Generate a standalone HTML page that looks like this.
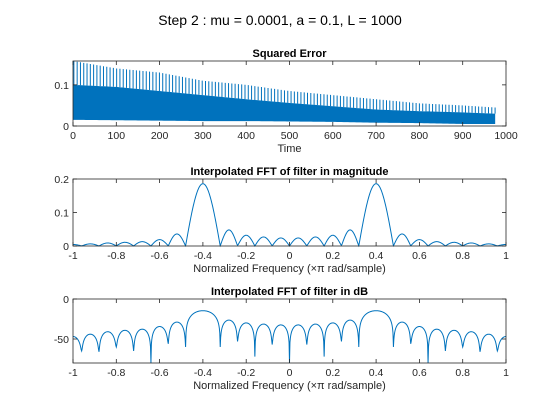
<!DOCTYPE html>
<html><head><meta charset="utf-8"><style>
body{margin:0;background:#fff}
svg{display:block;font-family:"Liberation Sans",sans-serif}
</style></head><body>
<svg id="fig" width="560" height="420" viewBox="0 0 560 420" xmlns="http://www.w3.org/2000/svg">
<rect width="560" height="420" fill="#fff"/>
<text x="280" y="25" font-size="14" text-anchor="middle" fill="#000">Step 2 : mu = 0.0001, a = 0.1, L = 1000</text>
</svg>
<script>
// ---- data ----
const errTimes = [0,100,200,300,400,500,600,700,800,900,975];
const errUpper = [0.158,0.14,0.13,0.11,0.1,0.085,0.075,0.065,0.055,0.05,0.045];
const errBandTop = [0.1,0.095,0.085,0.075,0.065,0.056,0.048,0.04,0.036,0.033,0.03];
const errBandBottom = [0.015,0.014,0.013,0.012,0.012,0.011,0.01,0.008,0.007,0.005,0.005];
const lobeCenters = [0.04,0.12,0.2,0.28,0.4,0.52,0.6,0.68,0.76,0.84,0.92,1.0];
const lobeHalfWidth = [0.04,0.04,0.04,0.04,0.08,0.04,0.04,0.04,0.04,0.04,0.04,0.04];
const lobePeaks = [0.024,0.027,0.032,0.048,0.186,0.036,0.019,0.013,0.011,0.009,0.0063,0.0045];
const nullFreqs = [0,0.08,0.16,0.24,0.32,0.48,0.56,0.64,0.72,0.8,0.88,0.96];
const nullDepthDb = [-85,-57,-72,-53,-60,-60,-56,-80,-65,-60,-66,-65];
const errXTicks = [0,100,200,300,400,500,600,700,800,900,1000];
const errYTicks = [0,0.1];
const freqTicks = [-1,-0.8,-0.6,-0.4,-0.2,0,0.2,0.4,0.6,0.8,1];
const magYTicks = [0,0.1,0.2];
const dbYTicks = [0,-50];

const NS="http://www.w3.org/2000/svg";
const svg=document.getElementById('fig');
function mk(tag,attrs,parent){const e=document.createElementNS(NS,tag);for(const k in attrs)e.setAttribute(k,attrs[k]);(parent||svg).appendChild(e);return e;}
const L=73,R=506;
function axes(name,top,bot,xmin,xmax,ymin,ymax){
  const g=mk('g',{});
  
  
  return {g,top,bot,x:v=>L+(v-xmin)/(xmax-xmin)*(R-L),y:v=>bot-(v-ymin)/(ymax-ymin)*(bot-top)};
}
function frame(a,title,xt,yt,xlabel,fmtx){
  mk('rect',{x:L,y:a.top,width:R-L,height:a.bot-a.top,fill:'none',stroke:'#262626','stroke-width':0.8},a.g);
  const t=mk('text',{x:(L+R)/2,y:a.top-4,'font-size':11,'font-weight':'bold','text-anchor':'middle',fill:'#000'},a.g);t.textContent=title;
  
  
  xt.forEach(v=>{const x=a.x(v);
    mk('line',{x1:x,x2:x,y1:a.bot,y2:a.bot-4,stroke:'#262626','stroke-width':0.8},a.g);
    mk('line',{x1:x,x2:x,y1:a.top,y2:a.top+4,stroke:'#262626','stroke-width':0.8},a.g);
    const l=mk('text',{x:x,y:a.bot+13,'font-size':10.5,'text-anchor':'middle',fill:'#262626'},a.g);l.textContent=fmtx(v);
    
    });
  yt.forEach(v=>{const y=a.y(v);
    mk('line',{x1:L,x2:L+4,y1:y,y2:y,stroke:'#262626','stroke-width':0.8},a.g);
    mk('line',{x1:R,x2:R-4,y1:y,y2:y,stroke:'#262626','stroke-width':0.8},a.g);
    const l=mk('text',{x:L-4,y:y+4,'font-size':10.5,'text-anchor':'end',fill:'#262626'},a.g);l.textContent=String(v);
    
    });
  const xl=mk('text',{x:(L+R)/2,y:a.bot+26,'font-size':11,'text-anchor':'middle',fill:'#262626'},a.g);xl.textContent=xlabel;
  
  
}
function interp(xs,ys,t){for(let i=0;i<xs.length-1;i++){if(t<=xs[i+1]){const f=(t-xs[i])/(xs[i+1]-xs[i]);return ys[i]+f*(ys[i+1]-ys[i]);}}return ys[ys.length-1];}
function shape(f){const af=Math.abs(f);for(let i=0;i<lobeCenters.length;i++){const d=af-lobeCenters[i];if(Math.abs(d)<=lobeHalfWidth[i]+1e-9){return lobePeaks[i]*Math.cos(Math.PI/2*d/lobeHalfWidth[i]);}}return 0;}
function mag(f){const af=Math.abs(f);let best=0,bd=9;nullFreqs.forEach((n,i)=>{const d=Math.abs(af-n);if(d<bd){bd=d;best=i;}});
  const fl=Math.pow(10,nullDepthDb[best]/20);const m=shape(f);return Math.sqrt(m*m+fl*fl);}

// ---- plot 1 ----
const a1=axes('squared-error-plot',61,126,0,1000,0,0.158);
let up='',dn='';
const tEnd=errTimes[errTimes.length-1];
for(let t=0;t<=tEnd;t+=5){up+=(up?'L':'M')+a1.x(t)+','+a1.y(interp(errTimes,errBandTop,t));}
for(let t=tEnd;t>=0;t-=5){dn+='L'+a1.x(t)+','+a1.y(interp(errTimes,errBandBottom,t));}
const band=mk('path',{d:up+dn+'Z',fill:'#0072BD'},a1.g);


let sp='';
for(let t=2;t<=tEnd;t+=7.6){const x=a1.x(t);sp+='M'+x+','+a1.y(interp(errTimes,errBandTop,t))+'V'+a1.y(interp(errTimes,errUpper,t));}
const spikes=mk('path',{d:sp,stroke:'#0072BD','stroke-width':1,fill:'none'},a1.g);


frame(a1,'Squared Error',errXTicks,errYTicks,'Time',v=>String(v));

// ---- plot 2 & 3 ----
const a2=axes('magnitude-plot',179,246,-1,1,0,0.2);
const a3=axes('db-plot',299,363,-1,1,-80,0);
let p2='',p3='';
for(let i=0;i<=1000;i++){const f=-1+i*0.002;const m=mag(f);
  p2+=(i?'L':'M')+a2.x(f).toFixed(2)+','+a2.y(m).toFixed(2);
  const db=Math.max(-80,20*Math.log10(Math.max(m,1e-6)));
  p3+=(i?'L':'M')+a3.x(f).toFixed(2)+','+a3.y(db).toFixed(2);}
const l2=mk('path',{d:p2,stroke:'#0072BD','stroke-width':1,fill:'none'},a2.g);


const l3=mk('path',{d:p3,stroke:'#0072BD','stroke-width':1,fill:'none'},a3.g);


const fx=v=>v===0?'0':String(v);
frame(a2,'Interpolated FFT of filter in magnitude',freqTicks,magYTicks,'Normalized Frequency  (\u00D7\u03C0 rad/sample)',fx);
frame(a3,'Interpolated FFT of filter in dB',freqTicks,dbYTicks,'Normalized Frequency  (\u00D7\u03C0 rad/sample)',fx);
</script>
</body></html>
